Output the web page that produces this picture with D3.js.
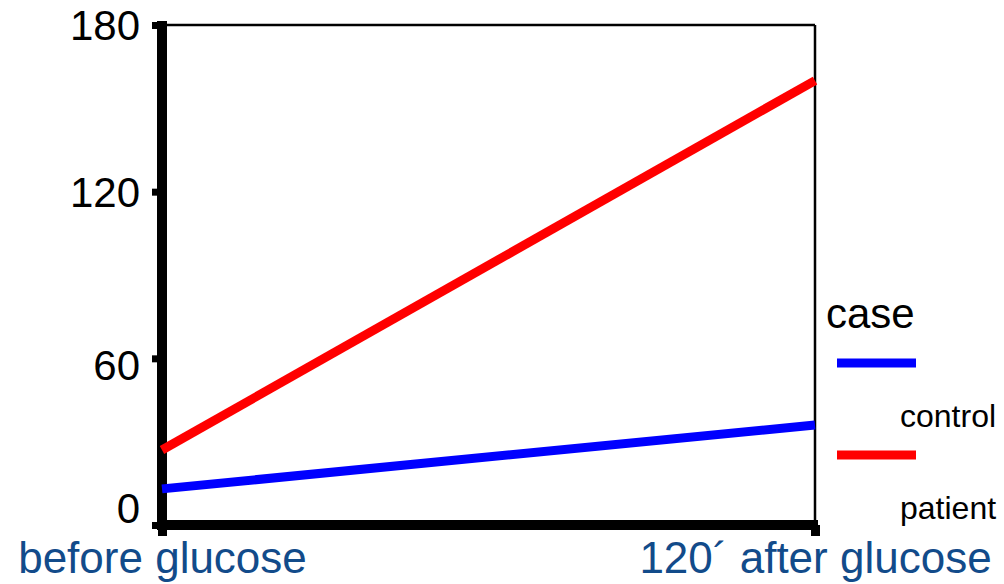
<!DOCTYPE html>
<html><head><meta charset="utf-8">
<script src="https://cdn.jsdelivr.net/npm/d3@7"></script>
<style>body{margin:0;background:#fff}svg{display:block}</style>
</head><body>
<svg id="c" width="1004" height="584"></svg>
<script>
const categories = ["before glucose", "120\u00B4 after glucose"];
const control = [13, 36];
const patient = [27, 160];
const yTicks = [0, 60, 120, 180];
const seriesNames = ["control", "patient"];
const seriesColors = ["#0000ff", "#ff0000"];

const svg = d3.select("#c");
const L = 162, R = 815, T = 25, B = 525;
const FONT = "Liberation Sans, Arial, sans-serif";
const x = d3.scalePoint().domain(categories).range([L, R]);
const y = d3.scaleLinear().domain([0, 180]).range([B, T]);

// frame (thin top/right)
svg.append("line").attr("x1", L).attr("x2", R).attr("y1", T).attr("y2", T).attr("stroke", "#000").attr("stroke-width", 2.5);
svg.append("line").attr("x1", R).attr("x2", R).attr("y1", T).attr("y2", B).attr("stroke", "#000").attr("stroke-width", 2.5);

// y axis
const ya = svg.append("g").attr("transform", `translate(${L},0)`)
  .call(d3.axisLeft(y).tickValues(yTicks).tickSize(10));
ya.select(".domain").remove();
ya.selectAll(".tick line").attr("stroke", "#000").attr("stroke-width", 7).attr("x2", -10).attr("x1", 0);
ya.selectAll(".tick text").attr("font-family", FONT).attr("font-size", 42).attr("fill", "#000")
  .attr("dy", "0.35em").attr("x", -22)
  .attr("y", d => d === 0 ? -17 : (d === 60 ? 6 : 0));
svg.append("line").attr("x1", L).attr("x2", L).attr("y1", T - 4).attr("y2", B + 5).attr("stroke", "#000").attr("stroke-width", 10);

// x axis
const xa = svg.append("g").attr("transform", `translate(0,${B})`)
  .call(d3.axisBottom(x).tickSize(11));
xa.select(".domain").remove();
xa.selectAll(".tick line").attr("stroke", "#000").attr("stroke-width", 9);
xa.selectAll(".tick text").attr("font-family", FONT).attr("font-size", 44).attr("fill", "#124b8a")
  .attr("dy", "0").attr("y", 48);
svg.append("line").attr("x1", L - 4).attr("x2", R + 3).attr("y1", B).attr("y2", B).attr("stroke", "#000").attr("stroke-width", 10);

// series lines
const line = d3.line().x((d, i) => x(categories[i])).y(d => y(d));
[control, patient].forEach((s, i) => {
  svg.append("path").datum(s).attr("d", line).attr("fill", "none")
    .attr("stroke", seriesColors[i]).attr("stroke-width", 9);
});

// legend
const lg = svg.append("g");
lg.append("text").attr("x", 826).attr("y", 328).text("case")
  .attr("font-family", FONT).attr("font-size", 42).attr("fill", "#000");
seriesNames.forEach((n, i) => {
  const yy = 363 + i * 92;
  lg.append("line").attr("x1", 837).attr("x2", 916).attr("y1", yy).attr("y2", yy)
    .attr("stroke", seriesColors[i]).attr("stroke-width", 9);
  lg.append("text").attr("x", 900).attr("y", yy + 64).text(n)
    .attr("font-family", FONT).attr("font-size", 32).attr("fill", "#000");
});
</script>
</body></html>
